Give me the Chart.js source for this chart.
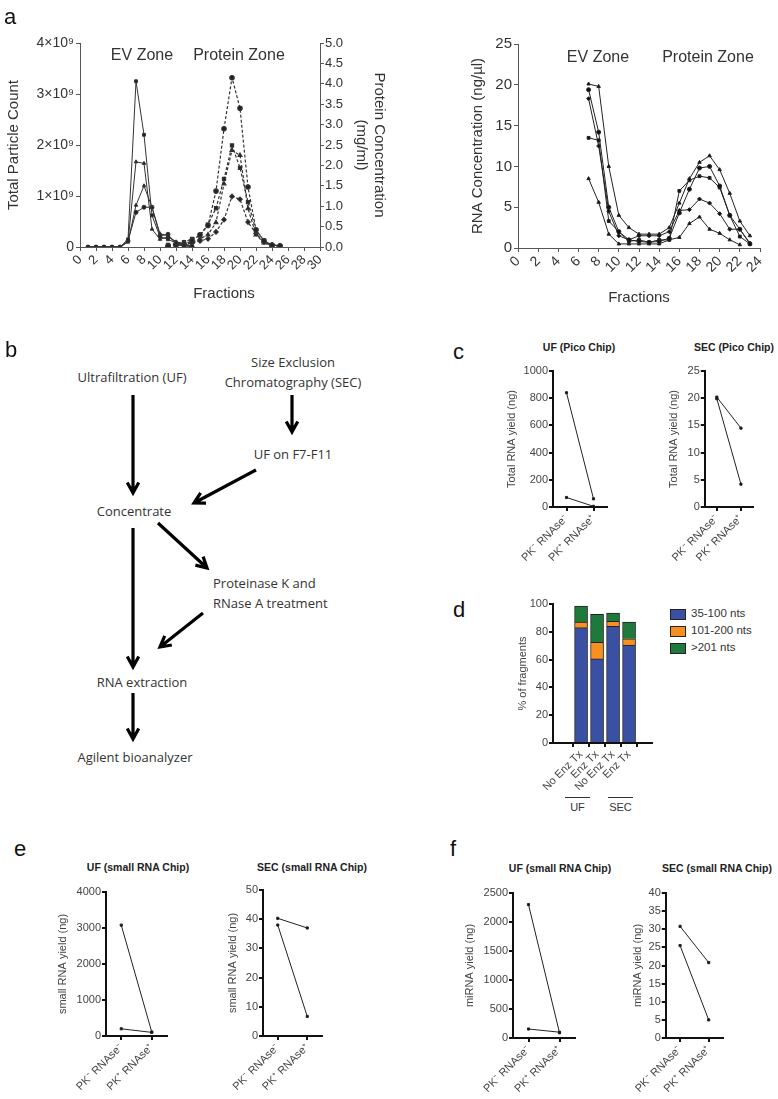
<!DOCTYPE html>
<html>
<head>
<meta charset="utf-8">
<script src="https://cdn.jsdelivr.net/npm/chart.js@4.4.1/dist/chart.umd.min.js"></script>
<style>
  body { margin: 0; background: #fff; width: 778px; height: 1099px; position: relative; overflow: hidden;
         font-family: "Liberation Sans", Arial, sans-serif; }
  canvas { position: absolute; }
  .t { position: absolute; white-space: nowrap; color: #333; line-height: 1; }
  .letter { font-size: 22px; line-height: 22px; color: #111; }
  .mid { transform: translate(-50%, -50%); }
  .chip { font-weight: bold; font-size: 10.5px; color: #222; }
  svg { position: absolute; left: 0; top: 0; }
</style>
</head>
<body>
<svg id="flow" width="390" height="780"></svg>
<script>
// ---- data ----
// panel a, left: fractions and particle counts (x10^9) / protein (mg/ml)
const fracParticles = [1,2,3,4,5,6,7,8,9,10,11,12,13,14];
const particles1 = [0,0,0,0,0,0.15,3.25,2.2,0.62,0.2,0.15,0.08,0.03,0.02];
const particles2 = [0,0,0,0,0,0.1,1.67,1.64,0.35,0.15,0.2,0.1,0.05,0.02];
const particles3 = [0,0,0,0,0,0.1,0.82,1.2,0.78,0.26,0.22,0.1,0.05,0.03];
const particles4 = [0,0,0,0,0,0.12,0.68,0.78,0.78,0.22,0.25,0.05,0.02,0.01];
const fracProtein = [11,12,13,14,15,16,17,18,19,20,21,22,23,24,25];
const protein1 = [0.02,0.05,0.08,0.15,0.3,0.53,1.37,2.9,4.15,3.4,1.47,0.42,0.15,0.05,0.03];
const protein2 = [0.05,0.1,0.12,0.2,0.28,0.55,0.95,1.67,2.49,1.94,1.1,0.41,0.16,0.04,0.02];
const protein3 = [0.03,0.06,0.1,0.12,0.2,0.3,0.6,1.55,2.37,2.25,0.94,0.3,0.1,0.04,0.02];
const protein4 = [0.02,0.04,0.06,0.1,0.15,0.2,0.37,0.67,1.24,1.17,0.61,0.33,0.12,0.05,0.03];

// panel a, right: RNA concentration (ng/ul)
const fracRna = [7,8,9,10,11,12,13,14,15,16,17,18,19,20,21,22,23];
const rna1 = [20.1,19.8,10,4,2.5,1.7,1.7,1.7,2.5,5.5,8.5,10.5,11.3,9.6,6.7,3.3,1.5];
const rna2 = [19.4,14.2,5,2,1,0.8,0.7,0.8,1.2,4.3,7.2,9.8,10,7.6,4,2.3,0.5];
const rna3 = [13.5,13.2,3.3,2,0.8,1,0.7,1,1,7,8.3,8.8,8.6,7.4,4,1.4,0.5];
const rna4 = [18.3,12.5,4.5,1.5,1,1.5,1.5,1.5,2,4.6,4.7,6,5.5,4.2,2.3,2.3,0.6];
const rna5 = [8.5,5.6,1.7,0.5,0.5,0.5,0.5,0.5,1,1.3,3,3.8,2.3,1.8,1,0.4,null];

// panels c, e, f: paired yields
const pairLabels = ['PK\u207B RNAse\u207B', 'PK\u207A RNAse\u207A'];
const ufPicoA = [840, 60], ufPicoB = [70, 5];
const secPicoA = [20.2, 14.5], secPicoB = [19.9, 4.2];
const ufSmallA = [3080, 110], ufSmallB = [200, 100];
const secSmallA = [40.3, 37], secSmallB = [38, 6.7];
const ufMirA = [2300, 90], ufMirB = [155, 100];
const secMirA = [30.8, 20.8], secMirB = [25.5, 5];

// panel d: fragment sizes (%)
const fragCats = ['No Enz Tx', 'Enz Tx', 'No Enz Tx', 'Enz Tx'];
const fragNames = ['35-100 nts', '101-200 nts', '>201 nts'];
const frag35 = [83, 60.5, 84, 70.5];
const frag101 = [4, 12, 3.5, 4.5];
const frag201 = [11.5, 20, 6, 12];
const fragColors = ['#3a51a3', '#f7901e', '#1d7a3a'];

// ---- helpers ----
Chart.defaults.font.family = '"Liberation Sans", Arial, sans-serif';
Chart.defaults.color = '#333';

function frame(box, plot) {
  const c = document.createElement('canvas');
  c.width = box.w; c.height = box.h;
  c.style.left = box.x + 'px'; c.style.top = box.y + 'px';
  document.body.appendChild(c);
  return { el: c, top: plot.t - box.y, yW: plot.l - box.x, xH: box.y + box.h - plot.b, rW: box.x + box.w - plot.r };
}

function edge(color, width) {
  return {
    grid: { display: true, drawOnChartArea: false, drawTicks: true, tickLength: 4, color: color, lineWidth: width },
    border: { display: true, color: color, width: width }
  };
}

function baseOpts(f, rightPad) {
  return {
    responsive: false, animation: false, devicePixelRatio: 1,
    layout: { autoPadding: false, padding: { top: f.top, right: rightPad, left: 0, bottom: 0 } },
    plugins: { legend: { display: false }, tooltip: { enabled: false } }
  };
}

function xy(xs, ys) { return xs.map((x, i) => ({ x: x, y: ys[i] })); }

function label(txt, x, y, cls, size) {
  const d = document.createElement('div');
  d.className = 't ' + (cls || '');
  d.textContent = txt;
  d.style.left = x + 'px'; d.style.top = y + 'px';
  if (size) d.style.fontSize = size + 'px';
  document.body.appendChild(d);
  return d;
}

const plain = v => String(v);

// ---- panel a left ----
(function () {
  const f = frame({ x: 0, y: 20, w: 390, h: 280 }, { l: 80, t: 43, r: 320, b: 247 });
  const solid = { borderColor: '#333', backgroundColor: '#222', borderWidth: 1, pointRadius: 2, yAxisID: 'y' };
  const dash = { borderColor: '#333', backgroundColor: '#222', borderWidth: 1.2, borderDash: [3, 2], pointRadius: 2.2, yAxisID: 'y2' };
  const opts = baseOpts(f, 0);
  opts.scales = {
    x: Object.assign(edge('#555', 1), {
      type: 'linear', min: 0, max: 30,
      ticks: { stepSize: 2, autoSkip: false, minRotation: 45, maxRotation: 45, font: { size: 13 }, padding: 1 },
      afterFit: s => { s.height = f.xH; }
    }),
    y: Object.assign(edge('#555', 1), {
      min: 0, max: 4,
      ticks: { stepSize: 1, font: { size: 14 }, padding: 2, callback: v => v === 0 ? '0' : v + '\u00D710\u2079' },
      title: { display: true, text: 'Total Particle Count', font: { size: 15 }, padding: { top: 5, bottom: 0 } },
      afterFit: s => { s.width = f.yW; }
    }),
    y2: Object.assign(edge('#555', 1), {
      position: 'right', min: 0, max: 5,
      ticks: { stepSize: 0.5, font: { size: 13 }, padding: 1, callback: v => v.toFixed(1) },
      title: { display: true, text: ['Protein Concentration', '(mg/ml)'], font: { size: 15 }, padding: { top: 2, bottom: 0 } },
      afterFit: s => { s.width = f.rW; }
    })
  };
  new Chart(f.el, {
    type: 'line',
    data: {
      datasets: [
        Object.assign({ data: xy(fracParticles, particles1), pointStyle: 'rect' }, solid),
        Object.assign({ data: xy(fracParticles, particles2), pointStyle: 'triangle' }, solid),
        Object.assign({ data: xy(fracParticles, particles3), pointStyle: 'triangle' }, solid),
        Object.assign({ data: xy(fracParticles, particles4), pointStyle: 'circle' }, solid),
        Object.assign({ data: xy(fracProtein, protein1), pointStyle: 'circle' }, dash),
        Object.assign({ data: xy(fracProtein, protein2), pointStyle: 'rect' }, dash),
        Object.assign({ data: xy(fracProtein, protein3), pointStyle: 'triangle' }, dash),
        Object.assign({ data: xy(fracProtein, protein4), pointStyle: 'rectRot' }, dash)
      ]
    },
    options: opts
  });
})();

// ---- panel a right ----
(function () {
  const f = frame({ x: 466, y: 20, w: 312, h: 289 }, { l: 518, t: 44, r: 760, b: 248 });
  const st = { borderColor: '#222', backgroundColor: '#111', borderWidth: 1, pointRadius: 2 };
  const opts = baseOpts(f, f.rW);
  opts.scales = {
    x: Object.assign(edge('#555', 1), {
      type: 'linear', min: 0, max: 24,
      ticks: { stepSize: 2, autoSkip: false, minRotation: 45, maxRotation: 45, font: { size: 14 }, padding: 1 },
      title: { display: true, text: 'Fractions', font: { size: 15 }, padding: { top: 0, bottom: 2 } },
      afterFit: s => { s.height = f.xH; }
    }),
    y: Object.assign(edge('#555', 1), {
      min: 0, max: 25,
      ticks: { stepSize: 5, font: { size: 15 }, padding: 2 },
      title: { display: true, text: 'RNA Concentration (ng/\u00B5l)', font: { size: 15 }, padding: { top: 3, bottom: 0 } },
      afterFit: s => { s.width = f.yW; }
    })
  };
  new Chart(f.el, {
    type: 'line',
    data: {
      datasets: [
        Object.assign({ data: xy(fracRna, rna1), pointStyle: 'triangle' }, st),
        Object.assign({ data: xy(fracRna, rna2), pointStyle: 'circle' }, st),
        Object.assign({ data: xy(fracRna, rna3), pointStyle: 'rect' }, st),
        Object.assign({ data: xy(fracRna, rna4), pointStyle: 'rectRot' }, st),
        Object.assign({ data: xy(fracRna, rna5), pointStyle: 'triangle' }, st)
      ]
    },
    options: opts
  });
})();

// ---- paired yield charts ----
function pairChart(box, plot, a, b, yMax, yStep, yTitle) {
  const f = frame(box, plot);
  const st = { borderColor: '#222', backgroundColor: '#111', borderWidth: 1, pointRadius: 1.5, pointStyle: 'rect' };
  const opts = baseOpts(f, f.rW);
  opts.scales = {
    x: Object.assign(edge('#111', 2), {
      type: 'category', offset: true,
      ticks: { minRotation: 45, maxRotation: 45, font: { size: 11 }, padding: 1, color: '#444' },
      afterFit: s => { s.height = f.xH; }
    }),
    y: Object.assign(edge('#111', 2), {
      min: 0, max: yMax,
      ticks: { stepSize: yStep, font: { size: 11 }, padding: 1, color: '#444', callback: plain },
      title: { display: true, text: yTitle, font: { size: 11 }, color: '#444', padding: { top: 3, bottom: 0 } },
      afterFit: s => { s.width = f.yW; }
    })
  };
  new Chart(f.el, {
    type: 'line',
    data: { labels: pairLabels, datasets: [Object.assign({ data: a }, st), Object.assign({ data: b }, st)] },
    options: opts
  });
}

pairChart({ x: 502, y: 360, w: 118, h: 210 }, { l: 553, t: 371, r: 607, b: 507 }, ufPicoA, ufPicoB, 1000, 200, 'Total RNA yield (ng)');
pairChart({ x: 663, y: 360, w: 105, h: 210 }, { l: 703, t: 371, r: 753, b: 507 }, secPicoA, secPicoB, 25, 5, 'Total RNA yield (ng)');
pairChart({ x: 53, y: 880, w: 125, h: 219 }, { l: 106, t: 892, r: 167, b: 1036 }, ufSmallA, ufSmallB, 4000, 1000, 'small RNA yield (ng)');
pairChart({ x: 223, y: 880, w: 110, h: 219 }, { l: 263, t: 890, r: 322, b: 1036 }, secSmallA, secSmallB, 50, 10, 'small RNA yield (ng)');
pairChart({ x: 460, y: 880, w: 125, h: 219 }, { l: 513, t: 893, r: 575, b: 1038 }, ufMirA, ufMirB, 2500, 500, 'miRNA yield (ng)');
pairChart({ x: 627, y: 880, w: 110, h: 219 }, { l: 664, t: 893, r: 723, b: 1038 }, secMirA, secMirB, 40, 5, 'miRNA yield (ng)');

// ---- panel d ----
(function () {
  const f = frame({ x: 513, y: 590, w: 150, h: 205 }, { l: 553, t: 604, r: 652, b: 743 });
  const idx = fragCats.map((c, i) => i);
  const opts = baseOpts(f, f.rW);
  opts.scales = {
    x: Object.assign(edge('#111', 2), {
      type: 'linear', min: -0.98, max: 3.66, stacked: true,
      ticks: { stepSize: 1, includeBounds: false, autoSkip: false, minRotation: 45, maxRotation: 45, font: { size: 11 }, padding: 1, color: '#444',
               callback: v => fragCats[v] !== undefined ? fragCats[v] : '' },
      afterFit: s => { s.height = f.xH; }
    }),
    y: Object.assign(edge('#111', 2), {
      min: 0, max: 100, stacked: true,
      ticks: { stepSize: 10, font: { size: 11 }, padding: 1, color: '#444' },
      title: { display: true, text: '% of fragments', font: { size: 11 }, color: '#444', padding: { top: 3, bottom: 0 } },
      afterFit: s => { s.width = f.yW; }
    })
  };
  const series = [frag35, frag101, frag201];
  new Chart(f.el, {
    type: 'bar',
    data: {
      datasets: series.map((vals, k) => ({
        label: fragNames[k], data: xy(idx, vals), backgroundColor: fragColors[k],
        borderColor: '#222', borderWidth: 1, barThickness: 13
      }))
    },
    options: opts
  });
  // legend built from series names
  fragNames.forEach((n, k) => {
    const bx = document.createElement('div');
    bx.style.cssText = 'position:absolute;left:670px;width:14px;height:9px;border:1px solid #222;top:' + (609 + k * 17) + 'px;background:' + fragColors[k];
    document.body.appendChild(bx);
    label(n, 691, 608 + k * 17, '', 11.5);
  });
  // group labels
  [['UF', 565, 590], ['SEC', 608, 633]].forEach(g => {
    const ln = document.createElement('div');
    ln.style.cssText = 'position:absolute;top:797px;height:0;border-top:1px solid #333;left:' + g[1] + 'px;width:' + (g[2] - g[1]) + 'px';
    document.body.appendChild(ln);
    label(g[0], (g[1] + g[2]) / 2, 807, 'mid', 11);
  });
})();

// ---- text labels ----
label('a', 4, 6, 'letter');
label('b', 5, 339, 'letter');
label('c', 453, 341, 'letter');
label('d', 453, 599, 'letter');
label('e', 14, 838, 'letter');
label('f', 450, 838, 'letter');
label('EV Zone', 142, 55, 'mid', 16);
label('Protein Zone', 239, 55, 'mid', 16);
label('EV Zone', 598, 57, 'mid', 16);
label('Protein Zone', 708, 57, 'mid', 16);
label('Fractions', 224, 292, 'mid', 15);
label('UF (Pico Chip)', 579, 347, 'chip mid');
label('SEC (Pico Chip)', 734, 347, 'chip mid');
label('UF (small RNA Chip)', 138, 867, 'chip mid');
label('SEC (small RNA Chip)', 312, 867, 'chip mid');
label('UF (small RNA Chip)', 560, 868, 'chip mid');
label('SEC (small RNA Chip)', 717, 868, 'chip mid');

// ---- panel b flowchart ----
(function () {
  const svg = document.getElementById('flow');
  const NS = 'http://www.w3.org/2000/svg';
  function txt(s, x, y, anchor) {
    const t = document.createElementNS(NS, 'text');
    t.setAttribute('x', x); t.setAttribute('y', y);
    t.setAttribute('text-anchor', anchor || 'middle');
    t.setAttribute('dominant-baseline', 'central');
    t.setAttribute('font-family', '"Open Sans", sans-serif');
    t.setAttribute('font-size', '13');
    t.setAttribute('fill', '#333');
    t.textContent = s;
    svg.appendChild(t);
  }
  function arrow(x1, y1, x2, y2) {
    const a = Math.atan2(y2 - y1, x2 - x1), L = 12, w = 0.5;
    const p = document.createElementNS(NS, 'path');
    const hx1 = x2 - L * Math.cos(a - w), hy1 = y2 - L * Math.sin(a - w);
    const hx2 = x2 - L * Math.cos(a + w), hy2 = y2 - L * Math.sin(a + w);
    p.setAttribute('d', 'M' + x1 + ' ' + y1 + 'L' + x2 + ' ' + y2 + 'M' + hx1 + ' ' + hy1 + 'L' + x2 + ' ' + y2 + 'L' + hx2 + ' ' + hy2);
    p.setAttribute('stroke', '#000'); p.setAttribute('stroke-width', '3.2');
    p.setAttribute('fill', 'none');
    svg.appendChild(p);
  }
  txt('Ultrafiltration (UF)', 132, 377);
  txt('Size Exclusion', 293, 362);
  txt('Chromatography (SEC)', 293, 382);
  txt('UF on F7-F11', 293, 454);
  txt('Concentrate', 134, 511);
  txt('Proteinase K and', 213, 583, 'start');
  txt('RNase A treatment', 213, 603, 'start');
  txt('RNA extraction', 142, 682);
  txt('Agilent bioanalyzer', 135, 757);
  arrow(133, 395, 133, 493);
  arrow(292, 395, 292, 432);
  arrow(256, 470, 194, 503);
  arrow(133, 528, 133, 667);
  arrow(158, 523, 207, 568);
  arrow(203, 613, 160, 647);
  arrow(133, 693, 133, 739);
})();
</script>
</body>
</html>
